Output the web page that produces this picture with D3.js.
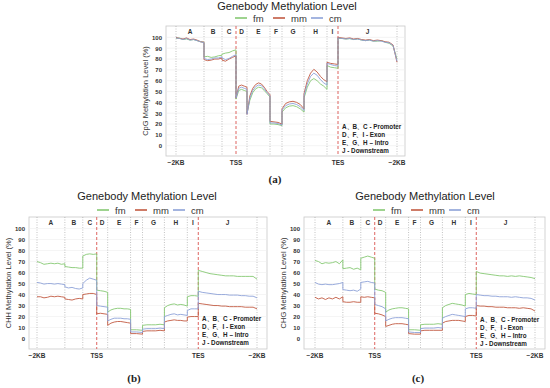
<!DOCTYPE html>
<html>
<head>
<meta charset="utf-8">
<script src="https://cdn.jsdelivr.net/npm/d3@7/dist/d3.min.js"></script>
<style>
  body { margin: 0; background: #fff; }
  svg { font-family: 'Liberation Sans', Arial, sans-serif; }
  .tick text { font-size: 6px; font-weight: bold; fill: #333; }
</style>
</head>
<body>
<div id="chart"></div>
<script>
// regions and their boundaries (bin units)
var regions = ['A', 'B', 'C', 'D', 'E', 'F', 'G', 'H', 'I', 'J'];
var bounds = [0, 28, 46, 60, 71, 94, 106, 128, 151, 162, 221];
var xLabels = [['\u22122KB', 0], ['TSS', 60], ['TES', 162], ['\u22122KB', 221]];
var yTicks = [0, 10, 20, 30, 40, 50, 60, 70, 80, 90, 100];
var seriesNames = ['fm', 'mm', 'cm'];
var noteLines = ['A\u3001B\u3001C - Promoter', 'D\u3001F\u3001I - Exon', 'E\u3001G\u3001H \u2013 Intro', 'J - Downstream'];

// CpG
var cpgFm = [
  [99, 99.5, 98, 98.5, 97.5, 98, 97, 96, 95.5],
  [82, 82.5, 81.5, 82, 83, 83.5],
  [84.5, 85.5, 86, 87.5, 88.5],
  [43, 51, 52, 51, 50],
  [30, 42, 49, 52.5, 54, 53.5, 51, 48, 45],
  [20, 20, 19.5, 18.5],
  [31, 35, 36.5, 37, 36, 34, 31],
  [44, 54, 60, 62, 60, 57, 55, 52],
  [74, 72.5, 72, 71.5],
  [99, 99, 98.5, 98.8, 98, 98.5, 97.5, 97, 97.5, 96.5, 96.5, 97, 95.5, 94.5, 92, 80]
];
var cpgMm = [
  [100, 99, 98.5, 99.5, 98, 98.5, 97.5, 96, 95.5],
  [79.5, 78.5, 79, 80, 80, 81],
  [79, 78, 80, 81.5, 83],
  [44, 55, 56, 55, 54],
  [29, 46, 53, 56.5, 58, 57, 54, 50, 47],
  [22.5, 22, 21.5, 20],
  [34, 39, 40.5, 41, 40, 38, 34],
  [48, 60, 67, 70.5, 68, 64, 61, 59],
  [77, 76, 75.5, 75],
  [100, 99.5, 99, 99.5, 98.5, 99, 98, 97.5, 98, 97, 97.5, 97, 96, 95.5, 93, 77]
];
var cpgCm = [
  [99.5, 99, 98, 99, 97.5, 98, 97, 96, 95],
  [80.5, 79.5, 80, 81, 81, 82],
  [81, 79.5, 80.5, 82.5, 84],
  [44, 53, 54, 53, 52],
  [29, 44, 51, 54.5, 56, 55.5, 52.5, 49, 46],
  [21, 21, 20.5, 19],
  [33, 37, 38.5, 39, 38, 36, 32.5],
  [46, 57, 64, 67, 65, 61, 58, 56],
  [76, 75, 74, 73.5],
  [99.5, 99, 98.5, 99, 98, 98.5, 97.5, 97, 97.5, 96.5, 97, 96.5, 95.5, 95, 92.5, 78]
];

// CHH
var chhFm = [
  [70, 69, 67.5, 68, 68.5, 68, 68.5, 67.5, 68],
  [65.5, 65, 64.5, 64.5, 64, 64],
  [75, 76.5, 77, 76.5, 77],
  [44, 43.5, 43, 42],
  [24, 26, 27, 27.5, 27.5, 27, 27, 26.5],
  [8, 8, 7.5],
  [12, 12.5, 12.5, 12.5, 13, 12.5],
  [28, 30, 31, 31.5, 30.5, 31, 30.5, 29.5],
  [38, 39, 39, 38.5],
  [62, 61, 60, 59, 58.5, 58, 57.5, 57, 57, 57, 56.5, 56.5, 56.5, 56.5, 56.5, 54]
];
var chhMm = [
  [38, 38, 37, 37.5, 38.5, 38, 38.5, 38, 37.5],
  [36, 35.5, 35, 36, 36.5, 36],
  [40, 40.5, 41, 41, 40],
  [22.5, 23, 22.5, 22],
  [12, 14, 15, 15.5, 15.5, 15, 14.5, 14],
  [4.5, 4.5, 4],
  [6.5, 7, 7, 7, 7.5, 7],
  [15, 16, 16.5, 17, 16.5, 16.5, 16, 16],
  [19.5, 20, 20, 20],
  [32, 31.5, 31, 30.5, 30, 30, 29.5, 29.5, 29, 29, 29, 29, 28.5, 28.5, 28.5, 27]
];
var chhCm = [
  [51, 50.5, 49.5, 50, 50, 49.5, 50, 49.5, 49],
  [47, 46, 46.5, 45.5, 45, 46],
  [50, 53, 55, 54, 53],
  [30, 29.5, 29, 28.5],
  [16, 17.5, 18.5, 18.5, 18.5, 18, 18, 17.5],
  [6, 6, 5.5],
  [8.5, 9, 9, 9, 9.5, 9],
  [20, 21, 22, 22.5, 21.5, 22, 21.5, 21],
  [25.5, 27, 27, 27],
  [43, 42, 41.5, 41, 40.5, 40, 40, 40, 39.5, 39.5, 39.5, 39, 39, 38.5, 38.5, 37]
];

// CHG
var chgFm = [
  [71, 70, 68, 69, 68.5, 69, 70, 68, 71.5],
  [63.5, 64, 64.5, 63, 64, 62.5],
  [73, 74, 75, 74, 73],
  [45, 44, 43.5, 42],
  [24, 26, 27, 27.5, 28, 28, 27.5, 27],
  [8, 8, 7.5],
  [12.5, 13, 13, 13, 13.5, 13],
  [28, 30, 31, 32, 31.5, 31, 30.5, 29.5],
  [40, 41, 40.5, 40],
  [61, 59.5, 59, 58.5, 58, 57.5, 57, 57, 56.5, 57, 56.5, 57, 56.5, 56, 55.5, 54.5]
];
var chgMm = [
  [37.5, 36, 37, 35.5, 37, 36, 37.5, 36, 38],
  [33.5, 33, 33, 33.5, 33, 33],
  [38, 37.5, 38, 37.5, 37],
  [23, 22.5, 21.5, 20],
  [11, 12, 13, 13.5, 13.5, 13.5, 13, 12.5],
  [4.5, 4, 4],
  [7, 7.5, 7.5, 7.5, 7.5, 7.5],
  [14, 15.5, 16, 16.5, 16.5, 16.5, 16, 15.5],
  [20, 21, 21, 20.5],
  [30, 29.5, 29.5, 29, 29, 28.5, 28.5, 28.5, 28, 28, 28, 27.5, 28, 27.5, 27, 25]
];
var chgCm = [
  [51, 49.5, 49, 49.5, 49, 49, 49.5, 50, 51],
  [44.5, 44, 43.5, 44, 43, 45],
  [51, 51.5, 52, 51, 50.5],
  [31, 30, 29, 27],
  [16, 17.5, 18.5, 19, 19, 19, 18.5, 18],
  [6, 5.5, 5.5],
  [9, 9.5, 9.5, 9.5, 10, 9.5],
  [18.5, 20, 21, 22, 21.5, 21, 20.5, 20],
  [27, 28, 28, 27.5],
  [40, 39.5, 39, 39, 38.5, 38.5, 38, 38, 38, 37.5, 38, 37.5, 37, 37, 36.5, 35]
];

var colors = { fm: '#86c873', mm: '#c25a42', cm: '#8da2d8' };

var width = 550, height = 388;

var svg = d3.select('#chart').append('svg')
  .attr('width', width)
  .attr('height', height);

var panels = [
  { tag: '(a)', yLabel: 'CpG Methylation Level (%)', series: [cpgFm, cpgMm, cpgCm],
    frame: { left: 166, top: 26, right: 405, bottom: 156 }, xr: [176, 397],
    titleX: 287, titleY: 10, legendX: 235, legendY: 18, noteX: 342, noteY: 127, tagX: 275, tagY: 183 },
  { tag: '(b)', yLabel: 'CHH Methylation Level (%)', series: [chhFm, chhMm, chhCm],
    frame: { left: 29, top: 217, right: 267, bottom: 349 }, xr: [37, 257],
    titleX: 147, titleY: 200, legendX: 97, legendY: 210, noteX: 202, noteY: 319, tagX: 134, tagY: 382 },
  { tag: '(c)', yLabel: 'CHG Methylation Level (%)', series: [chgFm, chgMm, chgCm],
    frame: { left: 304, top: 217, right: 545, bottom: 349 }, xr: [315, 535],
    titleX: 425, titleY: 200, legendX: 373, legendY: 210, noteX: 480, noteY: 320, tagX: 418, tagY: 382 }
];

var toPoints = function(segs) {
  var pts = [];
  segs.forEach(function(vals, i) {
    var b0 = bounds[i], b1 = bounds[i + 1];
    vals.forEach(function(v, j) {
      pts.push([b0 + (b1 - b0) * j / (vals.length - 1), v]);
    });
  });
  return pts;
};

panels.forEach(function(p) {
  var f = p.frame;
  var xScale = d3.scaleLinear().domain([0, 221]).range(p.xr);
  var yScale = d3.scaleLinear().domain([-9.5, 110.5]).range([f.bottom, f.top]);

  var g = svg.append('g');

  // title
  g.append('text')
    .attr('x', p.titleX).attr('y', p.titleY)
    .attr('text-anchor', 'middle')
    .attr('font-size', 11)
    .attr('fill', '#222')
    .text('Genebody Methylation Level');

  // legend
  seriesNames.forEach(function(name, i) {
    var lx = p.legendX + i * 38;
    g.append('line')
      .attr('x1', lx).attr('x2', lx + 12)
      .attr('y1', p.legendY).attr('y2', p.legendY)
      .attr('stroke', colors[name]).attr('stroke-width', 1.6);
    g.append('text')
      .attr('x', lx + 18).attr('y', p.legendY + 3.5)
      .attr('font-size', 9.5).attr('fill', '#333')
      .text(name);
  });

  // frame
  g.append('rect')
    .attr('x', f.left).attr('y', f.top)
    .attr('width', f.right - f.left).attr('height', f.bottom - f.top)
    .attr('fill', '#fff').attr('stroke', '#c8c8c8').attr('stroke-width', 0.8);

  // horizontal grid
  g.selectAll('.hgrid').data(yTicks).enter().append('line')
    .attr('x1', f.left).attr('x2', f.right)
    .attr('y1', function(d) { return yScale(d); })
    .attr('y2', function(d) { return yScale(d); })
    .attr('stroke', '#ececec').attr('stroke-width', 0.6);

  // region boundaries
  bounds.forEach(function(b) {
    var isMark = (b === 60 || b === 162);
    g.append('line')
      .attr('x1', xScale(b)).attr('x2', xScale(b))
      .attr('y1', f.top).attr('y2', f.bottom)
      .attr('stroke', isMark ? '#d9534f' : '#9a9a9a')
      .attr('stroke-width', isMark ? 0.9 : 0.6)
      .attr('stroke-dasharray', isMark ? '3,2' : '1,1.5');
  });

  // region labels
  regions.forEach(function(r, i) {
    g.append('text')
      .attr('x', xScale((bounds[i] + bounds[i + 1]) / 2))
      .attr('y', f.top + 8)
      .attr('text-anchor', 'middle')
      .attr('font-size', 6.5).attr('font-weight', 'bold').attr('fill', '#333')
      .text(r);
  });

  // y axis
  var yAxis = d3.axisLeft(yScale).tickValues(yTicks).tickSize(0).tickPadding(4);
  g.append('g')
    .attr('transform', 'translate(' + f.left + ',0)')
    .call(yAxis)
    .call(function(s) { s.select('.domain').remove(); });

  g.append('text')
    .attr('transform', 'translate(' + (f.left - 18) + ',' + ((f.top + f.bottom) / 2) + ') rotate(-90)')
    .attr('text-anchor', 'middle')
    .attr('font-size', 7.5).attr('fill', '#333')
    .text(p.yLabel);

  // x labels
  xLabels.forEach(function(d) {
    g.append('text')
      .attr('x', xScale(d[1])).attr('y', f.bottom + 9)
      .attr('text-anchor', 'middle')
      .attr('font-size', 6.5).attr('font-weight', 'bold').attr('fill', '#333')
      .text(d[0]);
  });

  // lines
  var line = d3.line()
    .x(function(d) { return xScale(d[0]); })
    .y(function(d) { return yScale(d[1]); });

  p.series.forEach(function(s, i) {
    g.append('path')
      .datum(toPoints(s))
      .attr('fill', 'none')
      .attr('stroke', colors[seriesNames[i]])
      .attr('stroke-width', 0.9)
      .attr('d', line);
  });

  // region note
  noteLines.forEach(function(t, i) {
    g.append('text')
      .attr('x', p.noteX).attr('y', p.noteY + i * 8 + 2)
      .attr('font-size', 6.3).attr('font-weight', 'bold').attr('fill', '#222')
      .text(t);
  });

  // panel tag
  g.append('text')
    .attr('x', p.tagX).attr('y', p.tagY)
    .attr('text-anchor', 'middle')
    .attr('font-family', "'Liberation Serif', 'DejaVu Serif', serif")
    .attr('font-size', 11).attr('font-weight', 'bold').attr('fill', '#222')
    .text(p.tag);
});
</script>
</body>
</html>
